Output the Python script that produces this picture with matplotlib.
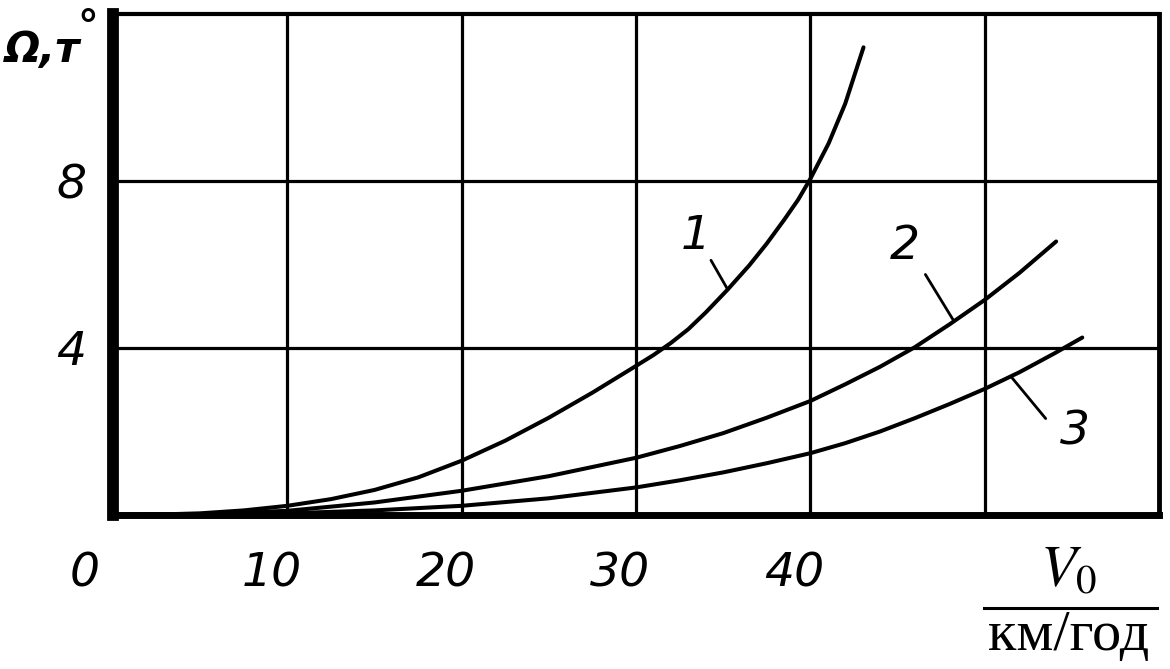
import matplotlib.pyplot as plt
from matplotlib.transforms import ScaledTranslation

# curve 1
v1 = [0, 2.5, 5, 7.5, 10, 12.5, 15, 17.5, 20, 22.5, 25, 27.5, 30, 31, 32, 33, 34,
      35.26, 36.5, 37.5, 38.5, 39.3, 40, 41.05, 42, 43.05]
om1 = [0, 0.01, 0.04, 0.11, 0.22, 0.38, 0.6, 0.9, 1.3, 1.78, 2.33, 2.93, 3.57,
       3.83, 4.12, 4.45, 4.85, 5.4, 5.98, 6.5, 7.07, 7.55, 8.05, 8.9, 9.85, 11.2]

# curve 2
v2 = [0, 5, 10, 15, 20, 25, 30, 32.5, 35, 37.5, 40, 42, 44, 46, 48, 50, 52, 54.1]
om2 = [0, 0.02, 0.1, 0.3, 0.58, 0.93, 1.37, 1.65, 1.96, 2.33, 2.73, 3.13, 3.55,
       4.02, 4.57, 5.15, 5.8, 6.55]

# curve 3
v3 = [0, 5, 10, 15, 20, 25, 30, 32.5, 35, 37.5, 40, 42, 44, 46, 48, 50, 52, 54,
      55.6]
om3 = [0, 0.01, 0.04, 0.11, 0.22, 0.4, 0.66, 0.83, 1.02, 1.24, 1.48, 1.72, 2.0,
       2.32, 2.66, 3.02, 3.42, 3.87, 4.25]

xticks = [0, 10, 20, 30, 40, 50]
xticklabels = ["0", "10", "20", "30", "40", ""]
yticks = [4, 8]
yticklabels = ["4", "8"]

# curve numbers: text position, leader start, leader end on curve
curve_names = ["1", "2", "3"]
name_pos = [(33.4, 6.66), (45.4, 6.43), (55.2, 1.98)]
leader_from = [(34.3, 6.1), (46.6, 5.76), (53.5, 2.31)]
leader_to = [(35.26, 5.4), (48.24, 4.64), (51.5, 3.32)]

hand = ["Liberation Sans Narrow", "DejaVu Sans"]
plt.rcParams["mathtext.fontset"] = "stix"

fig = plt.figure(figsize=(11.7, 6.69), dpi=100)
ax = fig.add_axes([0.0966, 0.2302, 0.894, 0.749])

for v, om in [(v1, om1), (v2, om2), (v3, om3)]:
    ax.plot(v, om, color="black", lw=2.9, solid_capstyle="round",
            solid_joinstyle="round", zorder=3)

for name, p, a, b in zip(curve_names, name_pos, leader_from, leader_to):
    ax.annotate("", xy=b, xytext=a,
                arrowprops=dict(arrowstyle="-", color="black", lw=2.0,
                                shrinkA=0, shrinkB=0))
    ax.text(p[0], p[1], name, fontsize=34, style="italic", family=hand,
            ha="center", va="center")

ax.set_xlim(0, 60)
ax.set_ylim(0, 12)
ax.set_xticks(xticks)
ax.set_xticklabels(xticklabels)
ax.set_yticks(yticks)
ax.set_yticklabels(yticklabels)
ax.grid(True, color="black", lw=2.3)
ax.set_axisbelow(True)
ax.tick_params(length=0, labelsize=34)
ax.tick_params(axis="x", pad=26)
ax.tick_params(axis="y", pad=19)
for lab in ax.get_xticklabels() + ax.get_yticklabels():
    lab.set_family(hand)
    lab.set_style("italic")
for lab in ax.get_xticklabels():
    lab.set_transform(lab.get_transform() +
                      ScaledTranslation(-0.16, 0, fig.dpi_scale_trans))
ax.get_xticklabels()[0].set_transform(ax.get_xticklabels()[0].get_transform() +
                                      ScaledTranslation(-0.12, 0, fig.dpi_scale_trans))

ax.spines["left"].set_linewidth(8.5)
ax.spines["bottom"].set_linewidth(5)
ax.spines["top"].set_linewidth(3)
ax.spines["right"].set_linewidth(3.5)

# y label
fig.text(0.004, 0.907, "Ω,т", fontsize=30, style="italic", weight="bold",
         family=hand, va="baseline")
fig.text(0.066, 0.99, "°", fontsize=30, weight="bold", family=hand, va="top")

# x label as fraction
fig.text(0.913, 0.147, "$V_0$", fontsize=42, ha="center", va="center")
fig.add_artist(plt.Line2D([0.841, 0.989], [0.091, 0.091], color="black", lw=2.2))
fig.text(0.913, 0.05, "км/год", fontsize=42, family="Liberation Serif",
         ha="center", va="center")

fig.savefig("out.png", dpi=100)
